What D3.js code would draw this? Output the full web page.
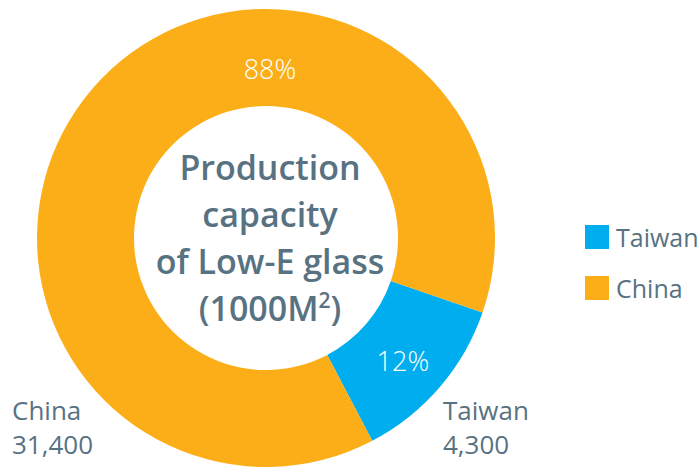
<!DOCTYPE html>
<html>
<head>
<meta charset="utf-8">
<script src="https://cdn.jsdelivr.net/npm/d3@7"></script>
<style>
  html, body { margin: 0; padding: 0; background: #fff; }
  svg { display: block; font-family: "Open Sans", "Noto Sans", sans-serif; }
</style>
</head>
<body>
<svg id="chart" width="700" height="468"></svg>
<script>
// Production capacity of Low-E glass, thousand square metres
const regions = ["Taiwan", "China"];
const capacity = [4300, 31400];
const shareLabels = ["12%", "88%"];
const valueLabels = ["4,300", "31,400"];
const titleLines = ["Production", "capacity", "of Low-E glass"];

const colors = d3.scaleOrdinal().domain(regions).range(["#00AEEF", "#FBAE17"]);
const textColor = "#587282";

const svg = d3.select("#chart");
const cx = 266, cy = 238;
const outerR = 229, innerR = 132;

const startA = 109 * Math.PI / 180;
const pie = d3.pie().sort(null).startAngle(startA).endAngle(startA + 2 * Math.PI);
const arcs = pie(capacity);
const arc = d3.arc().innerRadius(innerR).outerRadius(outerR);

const g = svg.append("g").attr("transform", `translate(${cx},${cy})`);
g.selectAll("path.slice")
  .data(arcs)
  .join("path")
  .attr("class", "slice")
  .attr("d", arc)
  .attr("fill", (d, i) => colors(regions[i]));

// percentage labels inside the ring
const labelArc = d3.arc().innerRadius((innerR + outerR) / 2).outerRadius((innerR + outerR) / 2);
const c0 = labelArc.centroid(arcs[0]);
const pctPos = [
  [c0[0], c0[1] + 6],
  // the larger slice carries its label near the top of the ring
  [4, -168]
];
g.selectAll("text.pct")
  .data(arcs)
  .join("text")
  .attr("class", "pct")
  .attr("x", (d, i) => pctPos[i][0])
  .attr("y", (d, i) => pctPos[i][1])
  .attr("dy", "0.35em")
  .attr("text-anchor", "middle")
  .attr("fill", "#fff")
  .attr("font-size", 27)
  .attr("font-weight", 300)
  .text((d, i) => shareLabels[i]);

// centre title
const title = g.append("text")
  .attr("text-anchor", "middle")
  .attr("fill", textColor)
  .attr("font-weight", 600)
  .attr("font-size", 34);
titleLines.forEach((line, i) => {
  title.append("tspan").attr("x", 4).attr("y", -58 + i * 47).text(line);
});
const unit = title.append("tspan").attr("x", 4).attr("y", -58 + 3 * 47);
unit.append("tspan").text("(1000M");
unit.append("tspan").attr("font-size", 21).attr("dy", -13).text("2");
unit.append("tspan").attr("dy", 13).text(")");

// value labels below the ring: name and value as separate lines
const valueX = [443, 12];
regions.forEach((r, i) => {
  svg.append("text")
    .attr("x", valueX[i]).attr("y", 420)
    .attr("fill", textColor)
    .attr("font-size", 26)
    .text(r);
  svg.append("text")
    .attr("x", valueX[i]).attr("y", 454)
    .attr("fill", textColor)
    .attr("font-size", 26)
    .text(valueLabels[i]);
});

// legend
const legend = svg.append("g").attr("transform", "translate(585,225)");
const item = legend.selectAll("g")
  .data(regions)
  .join("g")
  .attr("transform", (d, i) => `translate(0,${i * 51})`);
item.append("rect")
  .attr("width", 24).attr("height", 24)
  .attr("fill", d => colors(d));
item.append("text")
  .attr("x", 31).attr("y", 22)
  .attr("fill", textColor)
  .attr("font-size", 25)
  .text(d => d);
</script>
</body>
</html>
